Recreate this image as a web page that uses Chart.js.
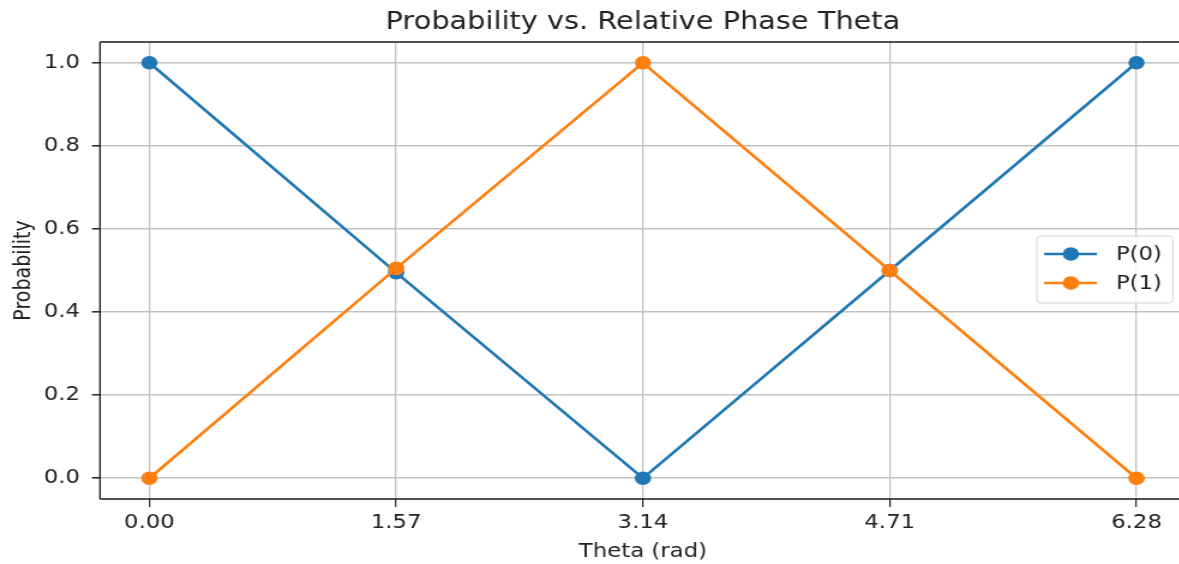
<!DOCTYPE html>
<html><head><meta charset="utf-8">
<script src="https://cdn.jsdelivr.net/npm/chart.js@4/dist/chart.umd.min.js"></script>
<style>
html,body{margin:0;padding:0;background:#fff;overflow:hidden;width:1179px;height:564px;}
#wrap{position:absolute;left:0;top:0;width:995px;height:564px;transform:scaleX(1.2);transform-origin:0 0;}
canvas{display:block;}
</style></head><body>
<div id="wrap"><canvas id="c" width="995" height="564"></canvas></div>
<script>
const theta = [0, 1.5708, 3.1416, 4.7124, 6.2832];
const p0 = [1.0, 0.495, 0.0, 0.5, 1.0];
const p1 = [0.0, 0.505, 1.0, 0.5, 0.0];
const xTickValues = [0, 1.5708, 3.1416, 4.7124, 6.2832];
const xTickLabels = ['0.00', '1.57', '3.14', '4.71', '6.28'];
const yTickValues = [0, 0.2, 0.4, 0.6, 0.8, 1.0];
const yTickLabels = ['0.0', '0.2', '0.4', '0.6', '0.8', '1.0'];
const seriesNames = ['P(0)', 'P(1)'];
const seriesColors = ['#1f77b4', '#ff7f0e'];
const titleText = 'Probability vs. Relative Phase Theta';
const xTitle = 'Theta (rad)';
const yTitle = 'Probability';

const FONT = 'DejaVu Sans';
const TXT = '#222';
const MR = 6.8;
const LW = 2.6;

const titlePlugin = {
  id: 'axesTitle',
  afterDraw(chart) {
    const ctx = chart.ctx, a = chart.chartArea;
    ctx.save();
    ctx.fillStyle = TXT;
    ctx.font = '24px "' + FONT + '"';
    ctx.textAlign = 'center';
    ctx.textBaseline = 'middle';
    ctx.fillText(titleText, (a.left + a.right) / 2, a.top - 19.5);
    ctx.restore();
  }
};

const spinePlugin = {
  id: 'spines',
  afterDatasetsDraw(chart) {
    const ctx = chart.ctx, a = chart.chartArea;
    ctx.save();
    ctx.strokeStyle = '#1a1a1a';
    ctx.lineWidth = 1.6;
    ctx.beginPath();
    ctx.moveTo(a.left, a.top); ctx.lineTo(a.right, a.top);
    ctx.moveTo(a.left, a.bottom); ctx.lineTo(a.right, a.bottom);
    ctx.stroke();
    ctx.lineWidth = 1.3;
    ctx.beginPath();
    ctx.moveTo(a.left, a.top); ctx.lineTo(a.left, a.bottom);
    ctx.moveTo(a.right, a.top); ctx.lineTo(a.right, a.bottom);
    ctx.stroke();
    ctx.restore();
  }
};

const legendPlugin = {
  id: 'mplLegend',
  afterDraw(chart) {
    const ctx = chart.ctx, a = chart.chartArea;
    const w = 113.3, h = 67, r = 3.5;
    const x1 = a.right - 10.8, x0 = x1 - w;
    const y0 = (a.top + a.bottom) / 2 - 1 - h / 2;
    ctx.save();
    ctx.beginPath();
    ctx.moveTo(x0 + r, y0);
    ctx.lineTo(x0 + w - r, y0); ctx.quadraticCurveTo(x0 + w, y0, x0 + w, y0 + r);
    ctx.lineTo(x0 + w, y0 + h - r); ctx.quadraticCurveTo(x0 + w, y0 + h, x0 + w - r, y0 + h);
    ctx.lineTo(x0 + r, y0 + h); ctx.quadraticCurveTo(x0, y0 + h, x0, y0 + h - r);
    ctx.lineTo(x0, y0 + r); ctx.quadraticCurveTo(x0, y0, x0 + r, y0);
    ctx.closePath();
    ctx.fillStyle = 'rgba(255,255,255,0.8)';
    ctx.fill();
    ctx.strokeStyle = '#d4d4d4';
    ctx.lineWidth = 1;
    ctx.stroke();
    chart.data.datasets.forEach((ds, i) => {
      const y = y0 + 18 + i * 29;
      ctx.strokeStyle = ds.borderColor;
      ctx.lineWidth = LW;
      ctx.beginPath();
      ctx.moveTo(x0 + 6, y); ctx.lineTo(x0 + 50, y);
      ctx.stroke();
      ctx.fillStyle = ds.borderColor;
      ctx.beginPath();
      ctx.arc(x0 + 28.3, y, MR, 0, Math.PI * 2);
      ctx.fill();
      ctx.fillStyle = TXT;
      ctx.font = '19px "' + FONT + '"';
      ctx.textBaseline = 'middle';
      ctx.textAlign = 'left';
      ctx.fillText(ds.label, x0 + 65.8, y + 1);
    });
    ctx.restore();
  }
};

function makeDataset(i, vals) {
  return {
    label: seriesNames[i],
    data: theta.map((t, k) => ({ x: t, y: vals[k] })),
    borderColor: seriesColors[i],
    backgroundColor: seriesColors[i],
    pointBackgroundColor: seriesColors[i],
    pointBorderWidth: 0,
    pointRadius: MR,
    pointHoverRadius: MR,
    borderWidth: LW,
    tension: 0,
    order: 1 - i
  };
}

new Chart(document.getElementById('c'), {
  type: 'line',
  data: { datasets: [makeDataset(0, p0), makeDataset(1, p1)] },
  plugins: [spinePlugin, legendPlugin, titlePlugin],
  options: {
    responsive: false,
    animation: false,
    events: [],
    devicePixelRatio: 1,
    layout: { padding: { left: 0, right: 2.5, top: 42, bottom: 0 } },
    plugins: {
      legend: { display: false },
      tooltip: { enabled: false },
      title: { display: false }
    },
    scales: {
      x: {
        type: 'linear', min: -0.31416, max: 6.59736,
        afterFit: s => { s.height = 65; },
        afterBuildTicks: s => { s.ticks = xTickValues.map(v => ({ value: v })); },
        ticks: {
          callback: (v, i) => xTickLabels[i], color: TXT, padding: 5,
          font: { family: FONT, size: 19 }, maxRotation: 0, autoSkip: false
        },
        grid: { color: '#c2c2c2', lineWidth: 1.3, drawTicks: true, tickLength: 8, tickColor: '#222', tickWidth: 1.2 },
        border: { display: false },
        title: { display: true, text: xTitle, color: TXT, font: { family: FONT, size: 19 }, padding: { top: 0, bottom: 0.5 } }
      },
      y: {
        type: 'linear', min: -0.05, max: 1.05,
        afterFit: s => { s.width = 83.33; },
        afterBuildTicks: s => { s.ticks = yTickValues.map(v => ({ value: v })); },
        ticks: {
          callback: (v, i) => yTickLabels[i], color: TXT, padding: 10,
          font: { family: FONT, size: 19 }, autoSkip: false
        },
        grid: { color: '#c2c2c2', lineWidth: 1.6, drawTicks: true, tickLength: 6.7, tickColor: '#222', tickWidth: 1.5 },
        border: { display: false },
        title: { display: true, text: yTitle, color: TXT, font: { family: FONT, size: 19 }, padding: { top: 8.5, bottom: 0 } }
      }
    }
  }
});
</script>
</body></html>
